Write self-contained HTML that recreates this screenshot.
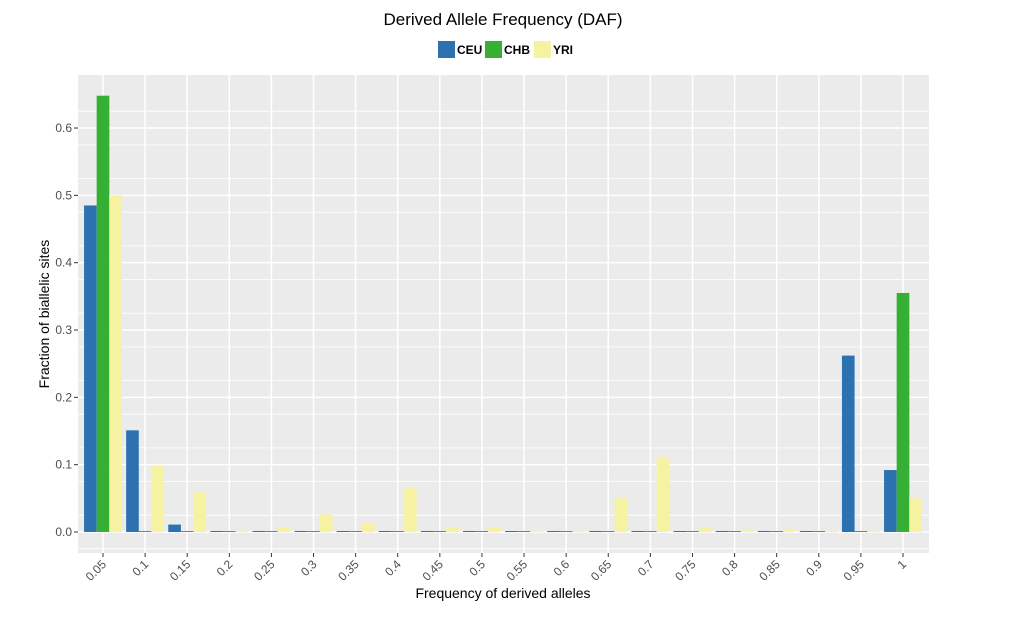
<!DOCTYPE html>
<html><head><meta charset="utf-8"><style>
body{margin:0;background:#fff;}
svg{display:block;font-family:"Liberation Sans",Arial,sans-serif;}
</style></head><body>
<svg id="chart" width="1031" height="618">
<text x="503" y="25" text-anchor="middle" font-size="17" fill="#000">Derived Allele Frequency (DAF)</text>
<g id="legend"></g>
<rect x="78" y="75" width="851" height="478" fill="#ebebeb"/>
<g id="grid"></g><g id="bars"></g><g id="axes"></g>
<text x="503" y="598" text-anchor="middle" font-size="14" fill="#000">Frequency of derived alleles</text>
<text transform="translate(49,314) rotate(-90)" text-anchor="middle" font-size="14" fill="#000">Fraction of biallelic sites</text>
</svg>
<script>
const categories=["0.05","0.1","0.15","0.2","0.25","0.3","0.35","0.4","0.45","0.5","0.55","0.6","0.65","0.7","0.75","0.8","0.85","0.9","0.95","1"];
const ceu=[0.485,0.151,0.011,0.001,0.001,0.001,0.001,0.001,0.001,0.001,0.001,0.001,0.001,0.001,0.001,0.001,0.001,0.001,0.262,0.092];
const chb=[0.648,0.001,0.001,0.001,0.001,0.001,0.001,0.001,0.001,0.001,0.001,0.001,0.001,0.001,0.001,0.001,0.001,0.001,0.001,0.355];
const yri=[0.5,0.098,0.059,0.002,0.007,0.026,0.012,0.065,0.006,0.006,0.002,0.002,0.05,0.11,0.006,0.003,0.003,0.002,0.002,0.05];
const yTicks=[0,0.1,0.2,0.3,0.4,0.5,0.6];
const yTickLabels=["0.0","0.1","0.2","0.3","0.4","0.5","0.6"];
const seriesNames=["CEU","CHB","YRI"];
const colors=["#2c72b0","#35b035","#f5f3a1"];
const NS="http://www.w3.org/2000/svg";
const X0=103,XS=(903-103)/19,Y0=532,YS=673.3;
const xs=i=>X0+i*XS, ys=v=>Y0-v*YS;
function mk(tag,attrs,parent){const e=document.createElementNS(NS,tag);for(const k in attrs)e.setAttribute(k,attrs[k]);document.getElementById(parent).appendChild(e);return e;}
for(let v=-0.025;v<=0.67;v+=0.05){const major=Math.abs(Math.round(v*10)-v*10)<0.01;
 if(major)continue;
 const l=mk('line',{x1:78,x2:929,y1:ys(v),y2:ys(v),stroke:'#fff','stroke-width':0.8},'grid');
 
 }
yTicks.forEach((v,i)=>{const l=mk('line',{x1:78,x2:929,y1:ys(v),y2:ys(v),stroke:'#fff','stroke-width':1.5},'grid');
 
 
 const t=mk('line',{x1:74,x2:78,y1:ys(v),y2:ys(v),stroke:'#333'},'axes');
 
 
 const tx=mk('text',{x:72,y:ys(v)+4,'text-anchor':'end','font-size':12,fill:'#4d4d4d'},'axes');
 tx.textContent=yTickLabels[i];
 
 });
categories.forEach((c,i)=>{const x=xs(i);
 const l=mk('line',{x1:x,x2:x,y1:75,y2:553,stroke:'#fff','stroke-width':1.5},'grid');
 
 
 const t=mk('line',{x1:x,x2:x,y1:553,y2:557,stroke:'#333'},'axes');
 
 
 const tx=mk('text',{x:0,y:0,'text-anchor':'end','font-size':12,fill:'#4d4d4d',transform:`translate(${x+4},${565}) rotate(-45)`},'axes');
 tx.textContent=c;
 
 });
const bw=XS*0.9/3;
[ceu,chb,yri].forEach((arr,s)=>arr.forEach((v,i)=>{
 const x=xs(i)-XS*0.45+s*bw;const h=Math.max(v*YS,1);
 const r=mk('rect',{x:x,y:Y0-h,width:bw,height:h,fill:colors[s]},'bars');
 
 }));
const lx=[438,485,534];
seriesNames.forEach((n,s)=>{
 const r=mk('rect',{x:lx[s],y:41,width:17,height:17,fill:colors[s]},'legend');
 
 
 const t=mk('text',{x:lx[s]+19,y:54,'font-size':12,'font-weight':'bold',fill:'#000'},'legend');
 t.textContent=n;
 
 });
</script>
</body></html>
